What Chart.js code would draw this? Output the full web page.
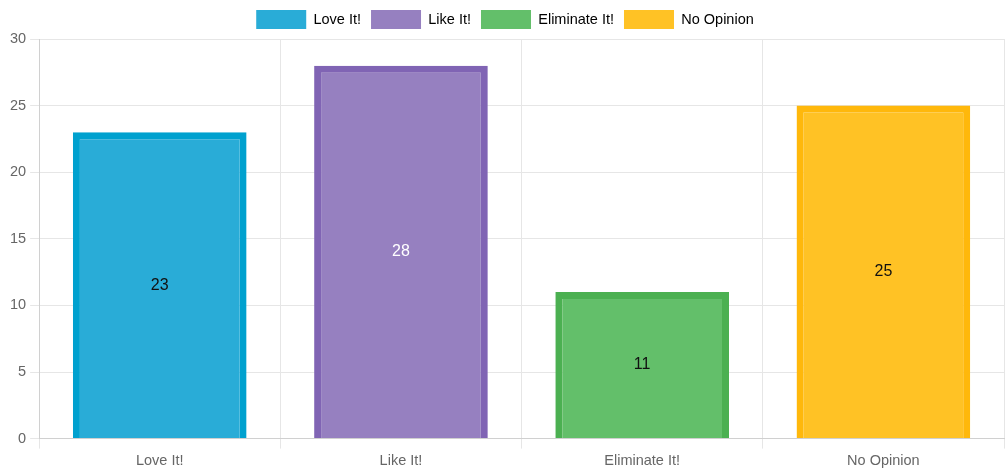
<!DOCTYPE html>
<html>
<head>
<meta charset="utf-8">
<script src="https://cdn.jsdelivr.net/npm/chart.js@4/dist/chart.umd.min.js"></script>
<style>
  html, body { margin: 0; padding: 0; background: #fff; }
  #wrap { width: 1008px; height: 471px; position: relative; }
</style>
</head>
<body>
<div id="wrap"><canvas id="chart"></canvas></div>
<script>
// Survey answers
const categories = ["Love It!", "Like It!", "Eliminate It!", "No Opinion"];
const votes = [23, 28, 11, 25];
const yTicks = [0, 5, 10, 15, 20, 25, 30];

const fillColors = ["#29acd7", "#9680c0", "#63bf6a", "#ffc225"];
const edgeColors = ["#00a1cf", "#8064b4", "#4bb051", "#ffb80b"];
const labelColors = ["#111", "#fff", "#111", "#111"];

// draws the value in the middle of each bar
const barValues = {
  id: "barValues",
  afterDatasetsDraw(chart) {
    const ctx = chart.ctx;
    const meta = chart.getDatasetMeta(0);
    ctx.save();
    ctx.font = "16px 'Liberation Sans', Arial, sans-serif";
    ctx.textAlign = "center";
    ctx.textBaseline = "middle";
    meta.data.forEach((bar, i) => {
      const mid = (bar.y + bar.base) / 2;
      ctx.fillStyle = labelColors[i];
      ctx.fillText(String(votes[i]), bar.x, mid);
    });
    ctx.restore();
  }
};

Chart.defaults.font.family = "'Liberation Sans', Arial, sans-serif";
Chart.defaults.color = "#666";

new Chart(document.getElementById("chart"), {
  type: "bar",
  data: {
    labels: categories,
    datasets: [
      {
        label: "Votes",
        data: votes,
        backgroundColor: fillColors,
        borderColor: edgeColors,
        borderWidth: 7,
      },
    ],
  },
  options: {
    responsive: true,
    maintainAspectRatio: false,
    animation: false,
    layout: { padding: { left: 6, right: 4, top: 0, bottom: -3 } },
    scales: {
      x: {
        grid: { color: "#e6e6e6", tickLength: 10 },
        border: { color: "#d0d0d0" },
        ticks: { font: { size: 14.5 }, color: "#666", padding: 4 },
      },
      y: {
        min: 0,
        max: 30,
        afterBuildTicks(axis) {
          axis.ticks = yTicks.map((v) => ({ value: v }));
        },
        grid: { color: "#e6e6e6", tickLength: 9 },
        border: { color: "#d0d0d0" },
        ticks: { font: { size: 14.5 }, color: "#666", padding: 4 },
      },
    },
    plugins: {
      tooltip: { enabled: false },
      legend: {
        display: true,
        labels: {
          boxWidth: 50,
          boxHeight: 19,
          padding: 10,
          font: { size: 14.5 },
          color: "#444",
          generateLabels() {
            return categories.map((name, i) => ({
              text: name,
              fillStyle: fillColors[i],
              strokeStyle: fillColors[i],
              lineWidth: 0,
              index: i,
            }));
          },
        },
      },
    },
  },
  plugins: [barValues],
});
</script>
</body>
</html>
